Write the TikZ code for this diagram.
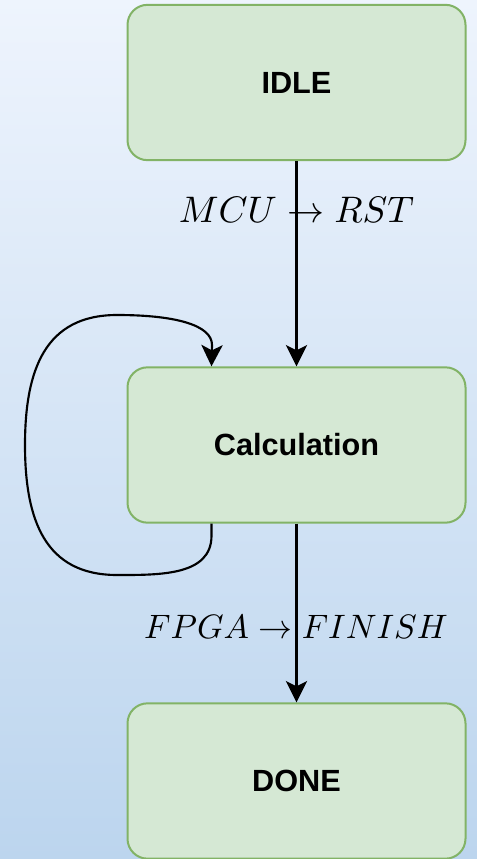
\documentclass[tikz,border=0pt]{standalone}
\usepackage{fontspec}
\newfontfamily\boxfont{Liberation Sans}
\usetikzlibrary{arrows.meta,calc}

\definecolor{bgtop}{HTML}{EEF4FD}
\definecolor{bgbottom}{HTML}{BCD5EE}
\definecolor{statefill}{HTML}{D5E8D4}
\definecolor{stateline}{HTML}{82B366}

\tikzset{
  state/.style={draw=stateline, fill=statefill, line width=1.5pt,
    rounded corners=15pt, minimum width=253.5pt, minimum height=116.5pt,
    inner sep=0pt, font=\boxfont\bfseries\fontsize{23}{27}\selectfont},
  flow/.style={line width=1.6pt, draw=black,
    -{Stealth[length=16pt, width=16pt, inset=4pt]}},
  cond/.style={anchor=base, inner sep=0pt}
}

\begin{document}
\begin{tikzpicture}[x=0.75pt, y=-0.75pt]
  % page and background gradient
  \shade[top color=bgtop, bottom color=bgbottom] (0,0) rectangle (477,859);
  \useasboundingbox (0,0) rectangle (477,859);

  % states
  \node[state] (idle) at (296.5,82.5) {IDLE};
  \node[state] (calc) at (296.5,445) {Calculation};
  \node[state] (done) at (296.5,781) {DONE};

  % transitions
  \draw[flow] (idle.south) -- (calc.north);
  \draw[flow] (calc.south) -- (done.north);

  % self loop on the calculation state
  \coordinate (loopout) at ($(calc.south west)!0.25!(calc.south east)$);
  \coordinate (loopin)  at ($(calc.north west)!0.25!(calc.north east)$);
  \draw[flow] (loopout) -- ++(0,12)
      .. controls +(0,40) and (160,575) .. (117,575)
      .. controls (45,575) and (25,520) .. (25,445)
      .. controls (25,370) and (45,315) .. (117,315)
      .. controls (175,315) and (212,325) .. (212,345)
      -- (loopin);

  % transition conditions
  \node[cond, scale=2.77] (c1) at (296.5,223) {$MCU \to RST$};
  \node[cond, scale=2.54] (c2) at (296,638) {$FPGA \to FINISH$};
\end{tikzpicture}
\end{document}
